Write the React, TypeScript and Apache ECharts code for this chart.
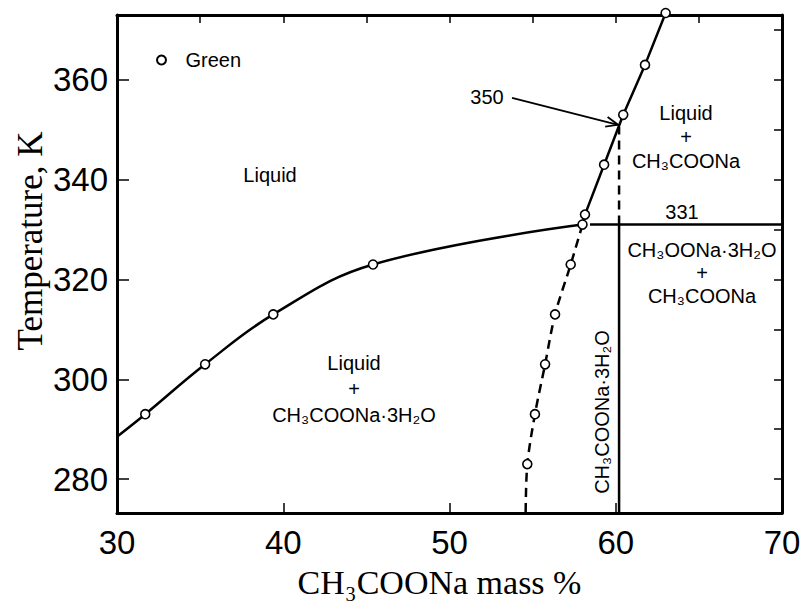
import { useEffect, useRef } from "react";
import * as echarts from "echarts";

// ---- axis ticks ----
const xTicksBottom = [30, 40, 50, 60, 70];
const xTicksTop = [30, 35, 40, 45, 50, 55, 60, 65, 70];
const yTickLabels = [280, 300, 320, 340, 360];
const yTicksRight = [280, 290, 300, 310, 320, 330, 340, 350, 360, 370];

// ---- curves (CH3COONa mass %, K) ----
const liquidusHydrate: number[][] = [
  [30.0, 288.5], [31.7, 293.0], [35.3, 303.0], [39.4, 313.0], [45.4, 323.0], [58.0, 331.0],
];
const liquidusAnhydrous: number[][] = [
  [58.0, 331.0], [58.15, 333.0], [59.3, 343.0], [60.45, 353.0], [61.76, 363.0], [63.0, 373.4],
];
const metastable: number[][] = [
  [58.0, 331.0], [57.29, 323.0], [56.35, 313.0], [55.75, 303.0], [55.14, 293.0], [54.68, 283.0], [54.58, 273.2],
];
const eutecticLine: number[][] = [[58.45, 331.0], [70.0, 331.0]];
const hydrateLine: number[][] = [[60.2, 273.2], [60.2, 331.0]];
const hydrateDashed: number[][] = [[60.2, 331.0], [60.2, 350.6]];
const arrow350: number[][] = [[53.76, 356.4], [60.14, 351.0]];

// ---- measured points (Green) ----
const greenPoints: number[][] = [
  [31.7, 293.0], [35.3, 303.0], [39.4, 313.0], [45.4, 323.0], [58.0, 331.0],
  [58.15, 333.0], [59.3, 343.0], [60.45, 353.0], [61.76, 363.0], [63.0, 373.4],
  [57.29, 323.0], [56.35, 313.0], [55.75, 303.0], [55.14, 293.0], [54.68, 283.0],
];

const SANS = "Liberation Sans, Arial, Helvetica, sans-serif";
const SERIF = "Liberation Serif, Times New Roman, serif";

export default function App() {
  const ref = useRef<HTMLDivElement>(null);
  useEffect(() => {
    if (!ref.current) return;
    const chart = echarts.init(ref.current, undefined, { renderer: "svg" });
    const yMin = 273.2;
    const yMax = 373;
    const lineSeries = (name: string, data: number[][], type: string, smooth: number | boolean) => ({
      name,
      type: "line",
      data,
      showSymbol: false,
      symbol: "none",
      smooth,
      clip: true,
      lineStyle: { color: "#000", width: 2.5, type: type === "dashed" ? [9, 6] : "solid" },
      z: 2,
      silent: true,
    });
    const option: any = {
      animation: false,
      backgroundColor: "#fff",
      grid: { left: 117, right: 21, top: 15, bottom: 89, containLabel: false, outerBoundsMode: "none" },
      legend: {
        left: 151,
        top: 45,
        itemWidth: 38,
        itemHeight: 9,
        data: [{ name: "Green", icon: "circle" }],
        textStyle: { fontFamily: SANS, fontSize: 20, color: "#000" },
      },
      xAxis: [
        {
          type: "value",
          position: "bottom",
          min: 30,
          max: 70,
          interval: 10,
          axisLine: { onZero: false, lineStyle: { color: "#000", width: 3 } },
          axisTick: { inside: true, length: 10, lineStyle: { color: "#000", width: 1.5 }, customValues: xTicksBottom },
          axisLabel: { customValues: xTicksBottom, fontFamily: SANS, fontSize: 33, color: "#000", margin: 13 },
          splitLine: { show: false },
          name: "CH₃COONa mass %",
          nameLocation: "middle",
          nameGap: 52,
          nameTextStyle: { fontFamily: SERIF, fontSize: 34, color: "#000", padding: [0, 20, 0, 0] },
        },
        {
          type: "value",
          position: "top",
          min: 30,
          max: 70,
          interval: 5,
          axisLine: { onZero: false, lineStyle: { color: "#000", width: 3 } },
          axisTick: { inside: true, length: 8, lineStyle: { color: "#000", width: 1.5 }, customValues: xTicksTop },
          axisLabel: { show: false },
          splitLine: { show: false },
        },
      ],
      yAxis: [
        {
          type: "value",
          position: "left",
          min: yMin,
          max: yMax,
          axisLine: { onZero: false, lineStyle: { color: "#000", width: 3 } },
          axisTick: { inside: true, length: 12, lineStyle: { color: "#000", width: 1.5 }, customValues: yTickLabels },
          axisLabel: { customValues: yTickLabels, fontFamily: SANS, fontSize: 33, color: "#000", margin: 9 },
          splitLine: { show: false },
        },
        {
          type: "value",
          position: "right",
          min: yMin,
          max: yMax,
          axisLine: { onZero: false, lineStyle: { color: "#000", width: 3 } },
          axisTick: { inside: true, length: 8, lineStyle: { color: "#000", width: 1.5 }, customValues: yTicksRight },
          axisLabel: { show: false },
          splitLine: { show: false },
        },
      ],
      series: [
        lineSeries("liquidus hydrate", liquidusHydrate, "solid", 0.4),
        lineSeries("liquidus anhydrous", liquidusAnhydrous, "solid", false),
        lineSeries("metastable", metastable, "dashed", 0.3),
        lineSeries("eutectic", eutecticLine, "solid", false),
        lineSeries("hydrate", hydrateLine, "solid", false),
        lineSeries("hydrate dashed", hydrateDashed, "dashed", false),
        {
          name: "arrow",
          type: "custom",
          silent: true,
          clip: false,
          z: 3,
          data: [[arrow350[0][0], arrow350[0][1], arrow350[1][0], arrow350[1][1]]],
          renderItem: (params: any, api: any) => {
            const p0 = api.coord([api.value(0), api.value(1)]);
            const p1 = api.coord([api.value(2), api.value(3)]);
            const dx = p1[0] - p0[0];
            const dy = p1[1] - p0[1];
            const len = Math.sqrt(dx * dx + dy * dy);
            const ux = dx / len;
            const uy = dy / len;
            const headLen = 13;
            const ang = (22 * Math.PI) / 180;
            const bx = -ux, by = -uy;
            const a1 = [p1[0] + headLen * (bx * Math.cos(ang) - by * Math.sin(ang)), p1[1] + headLen * (bx * Math.sin(ang) + by * Math.cos(ang))];
            const a2 = [p1[0] + headLen * (bx * Math.cos(-ang) - by * Math.sin(-ang)), p1[1] + headLen * (bx * Math.sin(-ang) + by * Math.cos(-ang))];
            return {
              type: "group",
              children: [
                { type: "line", shape: { x1: p0[0], y1: p0[1], x2: p1[0], y2: p1[1] }, style: { stroke: "#000", lineWidth: 1.8 } },
                { type: "polyline", shape: { points: [a1, p1, a2] }, style: { stroke: "#000", lineWidth: 1.8, fill: null } },
              ],
            };
          },
        },
        {
          name: "Green",
          type: "scatter",
          data: greenPoints,
          symbol: "circle",
          symbolSize: 9,
          clip: false,
          z: 5,
          itemStyle: { color: "#fff", borderColor: "#000", borderWidth: 1.6, opacity: 1 },
        },
      ],
      graphic: [
        {
          type: "text",
          x: 30,
          y: 241,
          rotation: Math.PI / 2,
          style: { text: "Temperature, K", fontFamily: SERIF, fontSize: 35, fill: "#000", align: "center", verticalAlign: "middle" },
        },
        {
          type: "text", x: 270, y: 175,
          style: { text: "Liquid", fontFamily: SANS, fontSize: 20, fill: "#000", align: "center", verticalAlign: "middle" },
        },
        {
          type: "text", x: 354, y: 389,
          style: { text: "Liquid\n+\nCH₃COONa·3H₂O", fontFamily: SANS, fontSize: 20, lineHeight: 26, fill: "#000", align: "center", verticalAlign: "middle" },
        },
        {
          type: "text", x: 686, y: 137,
          style: { text: "Liquid\n+\nCH₃COONa", fontFamily: SANS, fontSize: 20, lineHeight: 24, fill: "#000", align: "center", verticalAlign: "middle" },
        },
        {
          type: "text", x: 702, y: 273,
          style: { text: "CH₃OONa·3H₂O\n+\nCH₃COONa", fontFamily: SANS, fontSize: 20, lineHeight: 23, fill: "#000", align: "center", verticalAlign: "middle" },
        },
        {
          type: "text", x: 682, y: 212,
          style: { text: "331", fontFamily: SANS, fontSize: 20, fill: "#000", align: "center", verticalAlign: "middle" },
        },
        {
          type: "text", x: 487, y: 97,
          style: { text: "350", fontFamily: SANS, fontSize: 20, fill: "#000", align: "center", verticalAlign: "middle" },
        },
        {
          type: "text", x: 602, y: 412, rotation: Math.PI / 2,
          style: { text: "CH₃COONa·3H₂O", fontFamily: SANS, fontSize: 20, fill: "#000", align: "center", verticalAlign: "middle" },
        },
      ],
    };
    chart.setOption(option);
    return () => chart.dispose();
  }, []);
  return <div ref={ref} style={{ position: "fixed", left: 0, top: 0, width: 803, height: 602, background: "#fff" }} />;
}
